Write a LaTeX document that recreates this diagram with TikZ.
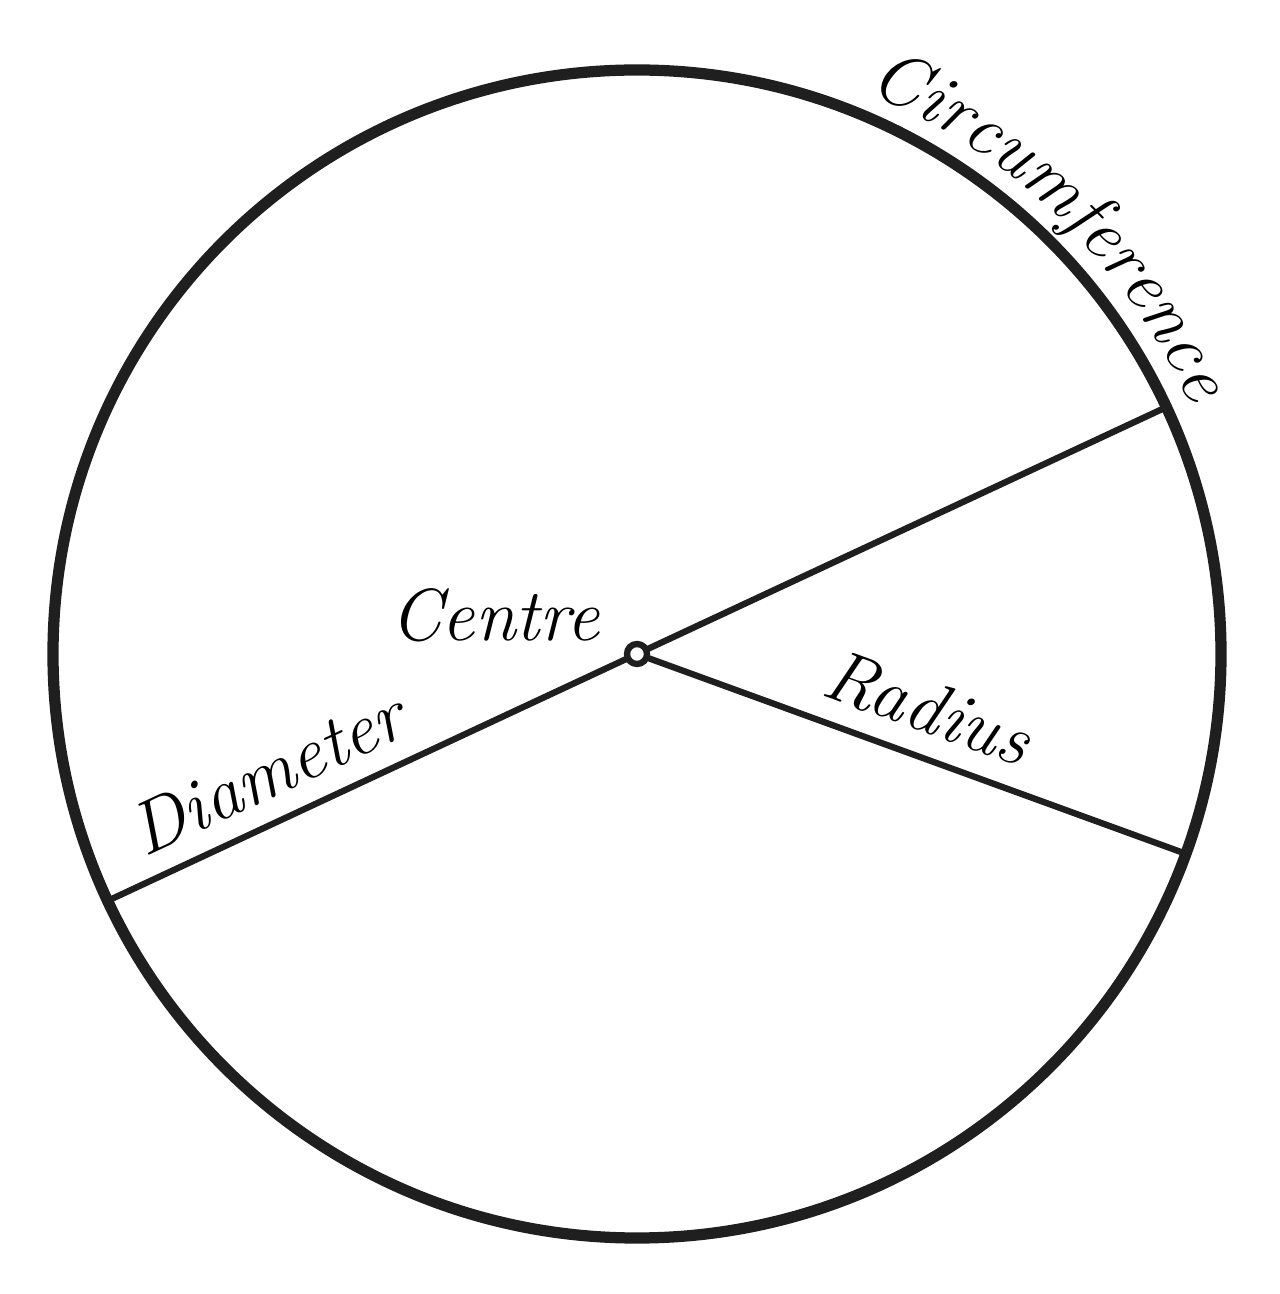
\documentclass[tikz,border=0pt]{standalone}
\usetikzlibrary{decorations.text}
\tikzset{label/.style={font=\fontsize{21}{25}\selectfont\itshape, inner sep=2mm},
  chord/.style={line width=1.8pt, draw=black!88}}
\begin{document}
\begin{tikzpicture}
\useasboundingbox (-6.37,6.54) rectangle (6.43,-6.40);

\draw [line width=3.2pt, draw=black!88] (0,0) circle (5.84);
\coordinate (O) at (0,0);
\coordinate (d1) at (205:5.84);
\coordinate (d2) at (25:5.84);
\coordinate (r1) at (-20:5.84);

\draw [chord] (d1) -- node[label, sloped, above, pos=0.17] {Diameter} (d2);
\draw [chord] (O) -- node[label, sloped, above, pos=0.5] {Radius} (r1);
\draw [line width=1.8pt, draw=black!88, fill=white] (O) circle (0.1);
\node (c) [label] at (-1.42,0.39) {Centre};

\path [decorate, decoration={text along path, text align=center,
  text={|\fontsize{21}{25}\selectfont\itshape|Circumference}}]
  (76:6.07) arc (76:16:6.07);
\end{tikzpicture}
\end{document}
